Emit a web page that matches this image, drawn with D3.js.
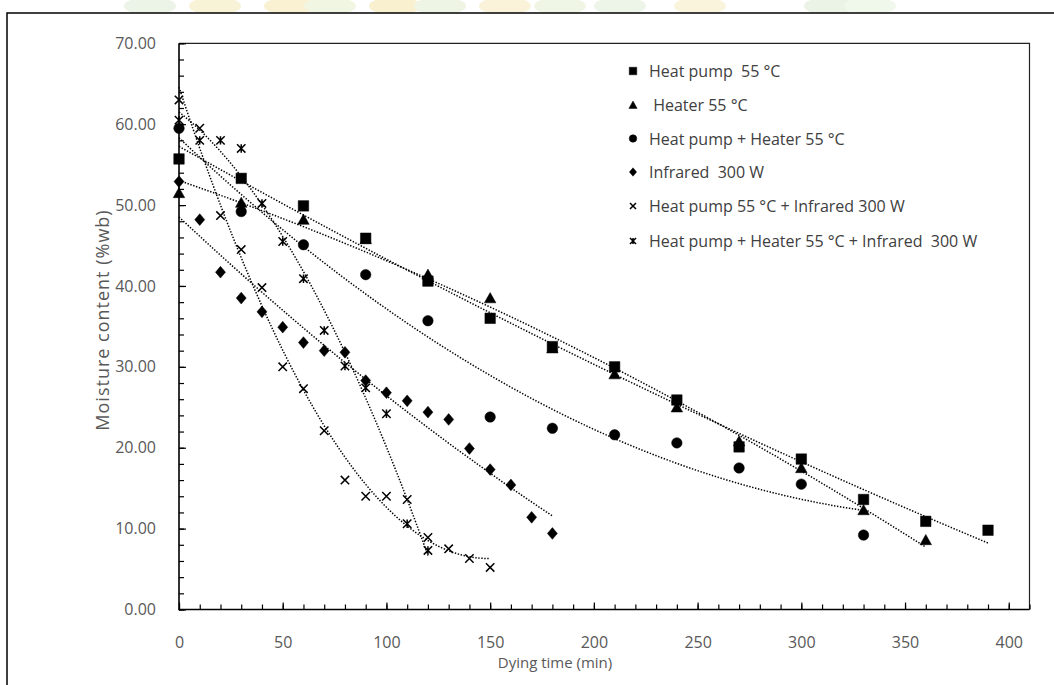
<!DOCTYPE html>
<html>
<head>
<meta charset="utf-8">
<script src="https://cdn.jsdelivr.net/npm/d3@7"></script>
<style>
  html, body { margin: 0; padding: 0; background: #fff; }
  svg { display: block; }
  text { font-family: "Open Sans", "Noto Sans", sans-serif; }
</style>
</head>
<body>
<svg id="chart" width="1054" height="685"></svg>
<script>
// Drying time (min) and moisture content (%wb) for each drying method
const timeHeatPump = [0, 30, 60, 90, 120, 150, 180, 210, 240, 270, 300, 330, 360, 390];
const moistHeatPump = [55.7, 53.3, 49.9, 45.9, 40.6, 36.0, 32.5, 30.0, 25.9, 20.1, 18.6, 13.6, 10.9, 9.8];

const timeHeater = [0, 30, 60, 90, 120, 150, 180, 210, 240, 270, 300, 330, 360];
const moistHeater = [51.5, 50.3, 48.2, 45.8, 41.4, 38.5, 32.3, 29.1, 25.0, 20.8, 17.5, 12.3, 8.6];

const timeHpHeater = [0, 30, 60, 90, 120, 150, 180, 210, 240, 270, 300, 330];
const moistHpHeater = [59.5, 49.2, 45.1, 41.4, 35.7, 23.8, 22.4, 21.6, 20.6, 17.5, 15.5, 9.2];

const timeInfrared = [0, 10, 20, 30, 40, 50, 60, 70, 80, 90, 100, 110, 120, 130, 140, 150, 160, 170, 180];
const moistInfrared = [52.9, 48.2, 41.7, 38.5, 36.8, 34.9, 33.0, 32.0, 31.8, 28.3, 26.8, 25.8, 24.4, 23.5, 19.9, 17.3, 15.4, 11.4, 9.4];

const timeHpInfrared = [0, 10, 20, 30, 40, 50, 60, 70, 80, 90, 100, 110, 120, 130, 140, 150];
const moistHpInfrared = [63.0, 59.5, 48.7, 44.5, 39.8, 30.0, 27.3, 22.1, 16.0, 14.0, 14.0, 13.6, 8.9, 7.5, 6.3, 5.2];

const timeHpHeaterInfrared = [0, 10, 20, 30, 40, 50, 60, 70, 80, 90, 100, 110, 120];
const moistHpHeaterInfrared = [60.5, 58.0, 58.0, 57.0, 50.2, 45.5, 40.9, 34.5, 30.1, 27.4, 24.2, 10.6, 7.3];

const seriesNames = [
  "Heat pump  55 \u00B0C",
  " Heater 55 \u00B0C",
  "Heat pump + Heater 55 \u00B0C",
  "Infrared  300 W",
  "Heat pump 55 \u00B0C + Infrared 300 W",
  "Heat pump + Heater 55 \u00B0C + Infrared  300 W"
];
const markerShapes = ["square", "triangle", "circle", "diamond", "cross", "star"];

const xTicksMajor = [0, 50, 100, 150, 200, 250, 300, 350, 400];
const yTicksMajor = [0, 10, 20, 30, 40, 50, 60, 70];

const series = [
  { t: timeHeatPump, m: moistHeatPump },
  { t: timeHeater, m: moistHeater },
  { t: timeHpHeater, m: moistHpHeater },
  { t: timeInfrared, m: moistInfrared },
  { t: timeHpInfrared, m: moistHpInfrared },
  { t: timeHpHeaterInfrared, m: moistHpHeaterInfrared }
].map((s, i) => ({
  name: seriesNames[i],
  shape: markerShapes[i],
  points: s.t.map((t, j) => ({ t, m: s.m[j] }))
}));

// Second-order polynomial least-squares trend line
function quadFit(pts) {
  let s0 = 0, s1 = 0, s2 = 0, s3 = 0, s4 = 0, b0 = 0, b1 = 0, b2 = 0;
  pts.forEach(p => {
    const x = p.t, y = p.m, x2 = x * x;
    s0 += 1; s1 += x; s2 += x2; s3 += x2 * x; s4 += x2 * x2;
    b0 += y; b1 += x * y; b2 += x2 * y;
  });
  const A = [[s0, s1, s2, b0], [s1, s2, s3, b1], [s2, s3, s4, b2]];
  for (let c = 0; c < 3; c++) {
    for (let r = c + 1; r < 3; r++) {
      const f = A[r][c] / A[c][c];
      for (let k = c; k < 4; k++) A[r][k] -= f * A[c][k];
    }
  }
  const coef = [0, 0, 0];
  for (let r = 2; r >= 0; r--) {
    let v = A[r][3];
    for (let k = r + 1; k < 3; k++) v -= A[r][k] * coef[k];
    coef[r] = v / A[r][r];
  }
  return x => coef[0] + coef[1] * x + coef[2] * x * x;
}

const svg = d3.select("#chart");

// faint letterhead artwork peeking above the chart frame
const art = svg.append("g").attr("opacity", 0.5);
[
  [150, "#d9ead0"], [215, "#f3e7b0"], [290, "#f6e3a6"], [330, "#e5efc9"],
  [395, "#f4e2a0"], [440, "#dfeccb"], [505, "#f6e9b4"], [560, "#e3efcf"],
  [620, "#dcebd2"], [700, "#f7ebba"], [830, "#d7e9cf"], [870, "#e2f0d8"]
].forEach(([cx, c]) => {
  art.append("ellipse").attr("cx", cx).attr("cy", 6).attr("rx", 26).attr("ry", 9).attr("fill", c);
});

// chart area frame
svg.append("rect")
  .attr("x", 7).attr("y", 13).attr("width", 1100).attr("height", 700)
  .attr("fill", "#fff").attr("stroke", "#000").attr("stroke-width", 1.5);

const plot = { left: 179, right: 1029.5, top: 43.3, bottom: 609.5 };

const x = d3.scaleLinear().domain([0, 410]).range([plot.left, plot.right]);
const y = d3.scaleLinear().domain([0, 70]).range([plot.bottom, plot.top]);

// plot area border (top and right)
svg.append("path")
  .attr("d", `M${plot.left},${plot.top}H${plot.right}V${plot.bottom}`)
  .attr("fill", "none").attr("stroke", "#222").attr("stroke-width", 1.2);

// minor ticks
const yMinor = d3.range(0, 70.001, 2);
const xMinor = d3.range(0, 410.001, 10);

const yAxisMinor = svg.append("g").attr("transform", `translate(${plot.left},0)`)
  .call(d3.axisLeft(y).tickValues(yMinor).tickSizeInner(-5).tickSizeOuter(0).tickFormat(""));
const xAxisMinor = svg.append("g").attr("transform", `translate(0,${plot.bottom})`)
  .call(d3.axisBottom(x).tickValues(xMinor).tickSizeInner(-5).tickSizeOuter(0).tickFormat(""));
[yAxisMinor, xAxisMinor].forEach(g => {
  g.select(".domain").remove();
  g.selectAll(".tick line").attr("stroke", "#000").attr("stroke-width", 1.2);
});

// major ticks with labels
const yAxis = svg.append("g").attr("transform", `translate(${plot.left},0)`)
  .call(d3.axisLeft(y).tickValues(yTicksMajor).tickSizeInner(-7).tickSizeOuter(0)
    .tickPadding(23).tickFormat(d3.format(".2f")));
const xAxis = svg.append("g").attr("transform", `translate(0,${plot.bottom})`)
  .call(d3.axisBottom(x).tickValues(xTicksMajor).tickSizeInner(-7).tickSizeOuter(0)
    .tickPadding(27).tickFormat(d3.format("d")));
[yAxis, xAxis].forEach(g => {
  g.select(".domain").remove();
  g.selectAll(".tick line").attr("stroke", "#000").attr("stroke-width", 1.2);
  g.selectAll(".tick text").attr("fill", "#595959").attr("font-size", 16)
    .style("font-family", "'Open Sans', sans-serif");
});

// axis lines
svg.append("path")
  .attr("d", `M${plot.left},${plot.top}V${plot.bottom}H${plot.right}`)
  .attr("fill", "none").attr("stroke", "#000").attr("stroke-width", 1.6);

// axis titles
svg.append("text")
  .attr("x", 555).attr("y", 662).attr("text-anchor", "middle").attr("dominant-baseline", "central")
  .attr("font-size", 15).attr("fill", "#595959").text("Dying time (min)");
svg.append("text")
  .attr("transform", "translate(102,320) rotate(-90)")
  .attr("text-anchor", "middle").attr("dominant-baseline", "central")
  .attr("font-size", 18).attr("letter-spacing", 1).attr("fill", "#595959")
  .text("Moisture content (%wb)");

// marker path generator
function markerPath(shape, s) {
  const h = s / 2;
  switch (shape) {
    case "square": return `M${-h},${-h}H${h}V${h}H${-h}Z`;
    case "triangle": return `M0,${-h * 1.05}L${h * 1.1},${h * 0.9}H${-h * 1.1}Z`;
    case "circle": return d3.symbol(d3.symbolCircle, Math.PI * h * h)();
    case "diamond": return `M0,${-h * 1.12}L${h * 0.95},0L0,${h * 1.12}L${-h * 0.95},0Z`;
    case "cross": {
      const c = h * 0.8;
      return `M${-c},${-c}L${c},${c}M${c},${-c}L${-c},${c}`;
    }
    case "star": {
      const c = h * 0.8;
      return `M${-c},${-c}L${c},${c}M${c},${-c}L${-c},${c}M0,${-c}V${c}`;
    }
  }
}
function drawMarker(g, shape, s) {
  const stroked = shape === "cross" || shape === "star";
  g.append("path")
    .attr("d", markerPath(shape, s))
    .attr("fill", stroked ? "none" : "#000")
    .attr("stroke", "#000")
    .attr("stroke-width", stroked ? 1.5 : 0.5);
}

// dotted trend lines
const line = d3.line().x(d => x(d[0])).y(d => y(d[1]));
series.forEach(s => {
  const f = quadFit(s.points);
  const t0 = d3.min(s.points, p => p.t), t1 = d3.max(s.points, p => p.t);
  const pts = d3.range(0, 101).map(i => {
    const t = t0 + (t1 - t0) * i / 100;
    return [t, f(t)];
  });
  svg.append("path").attr("d", line(pts))
    .attr("fill", "none").attr("stroke", "#000").attr("stroke-width", 1.5)
    .attr("stroke-dasharray", "1.4 1.6");
});

// data points
series.forEach(s => {
  const g = svg.append("g");
  s.points.forEach(p => {
    const mg = g.append("g").attr("transform", `translate(${x(p.t)},${y(p.m)})`);
    drawMarker(mg, s.shape, 10.5);
  });
});

// legend
const legendY = [71, 105, 138.5, 172, 206, 241];
const legend = svg.append("g");
series.forEach((s, i) => {
  const mg = legend.append("g").attr("transform", `translate(633,${legendY[i]})`);
  drawMarker(mg, s.shape, 7.5);
  legend.append("text")
    .attr("x", 649).attr("y", legendY[i]).attr("dominant-baseline", "central")
    .attr("font-size", 16).attr("fill", "#404040").style("white-space", "pre")
    .text(s.name);
});
</script>
</body>
</html>
